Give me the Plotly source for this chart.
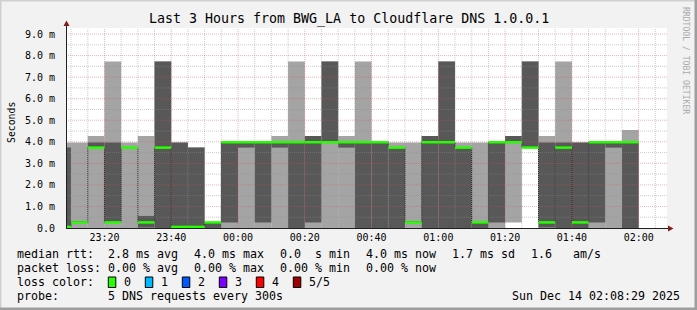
import plotly.graph_objects as go
import pandas as pd

# ---------------- data ----------------
col_start = [
    "2025-12-13 23:05", "2025-12-13 23:10", "2025-12-13 23:15", "2025-12-13 23:20",
    "2025-12-13 23:25", "2025-12-13 23:30", "2025-12-13 23:35", "2025-12-13 23:40",
    "2025-12-13 23:45", "2025-12-13 23:50", "2025-12-13 23:55", "2025-12-14 00:00",
    "2025-12-14 00:05", "2025-12-14 00:10", "2025-12-14 00:15", "2025-12-14 00:20",
    "2025-12-14 00:25", "2025-12-14 00:30", "2025-12-14 00:35", "2025-12-14 00:40",
    "2025-12-14 00:45", "2025-12-14 00:50", "2025-12-14 00:55", "2025-12-14 01:00",
    "2025-12-14 01:05", "2025-12-14 01:10", "2025-12-14 01:15", "2025-12-14 01:20",
    "2025-12-14 01:25", "2025-12-14 01:30", "2025-12-14 01:35", "2025-12-14 01:40",
    "2025-12-14 01:45", "2025-12-14 01:50", "2025-12-14 01:55",
]
# sorted ping results (ms) per 5-minute step; ping3 is the median
ping1 = [0, 0, 0, 0, 0, 0, 0, 0, 0, 0, 0, 0, 0, 0, 0, 0, 0, 0, 0, 0,
         0, 0, 0, 0, 0, 0, 0, 0.25, 3.73, 0, 0, 0, 0, 0, 0]
ping2 = [0.03, 0.24, 3.73, 0.25, 3.72, 0.02, 0, 0, 0, 0, 0.25, 3.73, 0.25, 3.73, 0, 0.25,
         3.98, 3.73, 0, 0, 0, 0.24, 0, 0, 0, 0, 0.25, 3.98, 3.73, 0.02, 0, 0, 0.25, 3.73, 0]
ping3 = [0.05, 0.26, 3.73, 0.26, 3.73, 0.26, 3.73, 0.05, 0.05, 0.26, 3.98, 3.98, 3.98, 3.98,
         3.98, 3.98, 3.98, 3.98, 3.98, 3.98, 3.73, 0.26, 3.98, 3.98, 3.73, 0.26, 3.98, 3.98,
         3.73, 0.26, 3.73, 0.26, 3.98, 3.98, 3.98]
ping4 = [3.73, 0.28, 3.97, 3.97, 3.74, 0.56, 7.72, 3.97, 3.73, 0.28, 3.98, 3.98, 3.98, 3.98,
         3.98, 4.27, 7.72, 3.98, 3.98, 3.98, 3.73, 0.28, 4.27, 7.72, 3.73, 0.28, 3.98, 4.27,
         7.72, 3.97, 3.97, 3.97, 3.98, 3.98, 3.98]
ping5 = [3.97, 3.97, 4.27, 7.72, 3.97, 4.27, 7.72, 3.97, 3.73, 0.28, 3.98, 3.98, 3.98, 4.27,
         7.72, 4.27, 7.72, 4.27, 7.72, 3.98, 3.97, 3.97, 4.27, 7.72, 3.97, 3.97, 3.98, 4.27,
         7.72, 4.27, 7.72, 3.97, 3.98, 3.98, 4.55]

x_tick_times = ["2025-12-13 23:20", "2025-12-13 23:40", "2025-12-14 00:00", "2025-12-14 00:20",
                "2025-12-14 00:40", "2025-12-14 01:00", "2025-12-14 01:20", "2025-12-14 01:40",
                "2025-12-14 02:00"]
x_tick_labels = ["23:20", "23:40", "00:00", "00:20", "00:40", "01:00", "01:20", "01:40", "02:00"]
y_tick_vals = [0, 1, 2, 3, 4, 5, 6, 7, 8, 9]
y_tick_labels = ["0.0", "1.0 m", "2.0 m", "3.0 m", "4.0 m", "5.0 m", "6.0 m", "7.0 m", "8.0 m", "9.0 m"]

loss_labels = ["0", "1", "2", "3", "4", "5/5"]
loss_colors = ["#26ff00", "#00b8ff", "#0059ff", "#7e00ff", "#ff0000", "#a10000"]

title_text = "Last 3 Hours from BWG_LA to Cloudflare DNS 1.0.0.1"
rtt_row = ["median rtt:", "2.8 ms avg", "4.0 ms max", "0.0  s min", "4.0 ms now", "1.7 ms sd", "1.6   am/s"]
loss_row = ["packet loss:", "0.00 % avg", "0.00 % max", "0.00 % min", "0.00 % now"]
probe_row = ["probe:", "5 DNS requests every 300s"]
stamp_text = "Sun Dec 14 02:08:29 2025"

# ---------------- geometry ----------------
W, H = 697, 310
L, R, T, B = 66, 30, 28, 82
PW, PH = W - L - R, H - T - B
Y_TOP = 9.28
X_RANGE = ["2025-12-13 23:08:29", "2025-12-14 02:08:29"]
STEP = pd.Timedelta(minutes=5)
MONO = "DejaVu Sans Mono"


def fx(x):
    return (x - L) / PW


def fy(y):
    return (H - B - y) / PH


t_start = pd.to_datetime(col_start)
t_mid = t_start + STEP / 2
t_end = t_start + STEP

fig = go.Figure()

# smoke: outer band (light) and inner band (dark)
fig.add_trace(go.Bar(x=t_mid, y=[b - a for a, b in zip(ping1, ping5)], base=ping1,
                     width=STEP.total_seconds() * 1000, marker=dict(color="#a4a4a4", line=dict(width=0)),
                     hoverinfo="skip"))
fig.add_trace(go.Bar(x=t_mid, y=[b - a for a, b in zip(ping2, ping4)], base=ping2,
                     width=STEP.total_seconds() * 1000, marker=dict(color="#585858", line=dict(width=0)),
                     hoverinfo="skip"))

# grid lines (drawn above the smoke, like rrdtool)
g0 = pd.Timestamp("2025-12-13 23:10")
g_minor_x, g_minor_y, g_major_x, g_major_y = [], [], [], []
major_set = set(pd.to_datetime(x_tick_times))
t = g0
while t <= pd.Timestamp(X_RANGE[1]):
    if t in major_set:
        g_major_x += [t, t, None]; g_major_y += [0, Y_TOP, None]
    else:
        g_minor_x += [t, t, None]; g_minor_y += [0, Y_TOP, None]
    t += STEP
xl = pd.to_datetime(X_RANGE)
for i in range(1, 19):
    v = i * 0.5
    if i % 2 == 0:
        g_major_x += [xl[0], xl[1], None]; g_major_y += [v, v, None]
    else:
        g_minor_x += [xl[0], xl[1], None]; g_minor_y += [v, v, None]
fig.add_trace(go.Scatter(x=g_minor_x, y=g_minor_y, mode="lines", hoverinfo="skip",
                         line=dict(color="rgba(143,143,143,0.45)", width=1, dash="1px,1px")))
fig.add_trace(go.Scatter(x=g_major_x, y=g_major_y, mode="lines", hoverinfo="skip",
                         line=dict(color="rgba(222,79,79,0.42)", width=1, dash="1px,1px")))

# median thin step line
fig.add_trace(go.Scatter(x=list(t_start) + [t_end[-1]], y=ping3 + [ping3[-1]], mode="lines",
                         line=dict(color="#202020", width=1, shape="hv", dash="1px,1px"), hoverinfo="skip"))
# median, coloured by loss (all 0 loss -> green)
mx, my = [], []
for s, e, m in zip(t_start, t_end, ping3):
    mx += [s, e, None]; my += [m, m, None]
fig.add_trace(go.Scatter(x=mx, y=my, mode="lines", line=dict(color=loss_colors[0], width=2.5),
                         hoverinfo="skip"))

shapes = []
# frame shading
shapes.append(dict(type="rect", xref="paper", yref="paper", x0=fx(0), x1=fx(W), y0=fy(0), y1=fy(1.5),
                   fillcolor="#cfcfcf", line=dict(width=0), layer="above"))
shapes.append(dict(type="rect", xref="paper", yref="paper", x0=fx(0), x1=fx(1.5), y0=fy(0), y1=fy(H),
                   fillcolor="#cfcfcf", line=dict(width=0), layer="above"))
shapes.append(dict(type="rect", xref="paper", yref="paper", x0=fx(W - 2.5), x1=fx(W), y0=fy(0), y1=fy(H),
                   fillcolor="#9e9e9e", line=dict(width=0), layer="above"))
shapes.append(dict(type="rect", xref="paper", yref="paper", x0=fx(0), x1=fx(W), y0=fy(H - 2.5), y1=fy(H),
                   fillcolor="#9e9e9e", line=dict(width=0), layer="above"))
# axes with arrows
shapes.append(dict(type="line", xref="paper", yref="paper", x0=fx(66.5), x1=fx(66.5), y0=fy(228.5), y1=fy(24),
                   line=dict(color="#1f1f1f", width=1), layer="above"))
shapes.append(dict(type="line", xref="paper", yref="paper", x0=fx(66), x1=fx(670), y0=fy(228.5), y1=fy(228.5),
                   line=dict(color="#1f1f1f", width=1), layer="above"))
shapes.append(dict(type="path", xref="paper", yref="paper",
                   path=f"M {fx(63.5)} {fy(26)} L {fx(69.5)} {fy(26)} L {fx(66.5)} {fy(20.5)} Z",
                   fillcolor="#801f1f", line=dict(width=0), layer="above"))
shapes.append(dict(type="path", xref="paper", yref="paper",
                   path=f"M {fx(668)} {fy(225.5)} L {fx(668)} {fy(231.5)} L {fx(673.5)} {fy(228.5)} Z",
                   fillcolor="#801f1f", line=dict(width=0), layer="above"))

annotations = []


def text(x, y, s, size=11.63, anchor="left", color="#000000", angle=0):
    annotations.append(dict(xref="paper", yref="paper", x=fx(x), y=fy(y), text=s, showarrow=False,
                            xanchor=anchor, yanchor="middle", borderpad=0, textangle=angle,
                            font=dict(family=MONO, size=size, color=color)))


text(348.5, 19, title_text, size=13.3, anchor="center")
text(11, 123, "Seconds", size=9.8, anchor="center", angle=-90)
text(686, 60, "RRDTOOL / TOBI OETIKER", size=8.1, anchor="center", color="#aaaaaa", angle=90)

col_x = [16, 107.3, 193.3, 279.3, 365.3, 451.3, 530.3]
for xx, s in zip(col_x, rtt_row):
    text(xx, 254.3, s)
for xx, s in zip(col_x, loss_row):
    text(xx, 268.3, s)
text(16, 282.3, "loss color:")
for i, (lab, c) in enumerate(zip(loss_labels, loss_colors)):
    sx = 108.3 + 37 * i
    shapes.append(dict(type="rect", xref="paper", yref="paper", x0=fx(sx), x1=fx(sx + 7.5),
                       y0=fy(287.5), y1=fy(277), fillcolor=c, line=dict(color="#000000", width=1),
                       layer="above"))
    text(sx + 15, 282.3, lab)
text(16, 296.3, probe_row[0])
text(107.3, 296.3, probe_row[1])
text(680.5, 296.3, stamp_text, anchor="right")

fig.update_layout(
    width=W, height=H, margin=dict(l=L, r=R, t=T, b=B, autoexpand=False),
    paper_bgcolor="#f2f2f2", plot_bgcolor="#ffffff",
    barmode="overlay", showlegend=False,
    shapes=shapes, annotations=annotations,
    xaxis=dict(type="date", range=X_RANGE, showgrid=False, zeroline=False, showline=False,
               tickvals=x_tick_times, ticktext=x_tick_labels, ticks="",
               tickfont=dict(family=MONO, size=10, color="#000000"), ticklabelstandoff=2),
    yaxis=dict(range=[0, Y_TOP], showgrid=False, zeroline=False, showline=False,
               tickvals=y_tick_vals, ticktext=y_tick_labels, ticks="",
               tickfont=dict(family=MONO, size=10, color="#000000"), ticklabelstandoff=10),
)

fig.write_html("out.html")
